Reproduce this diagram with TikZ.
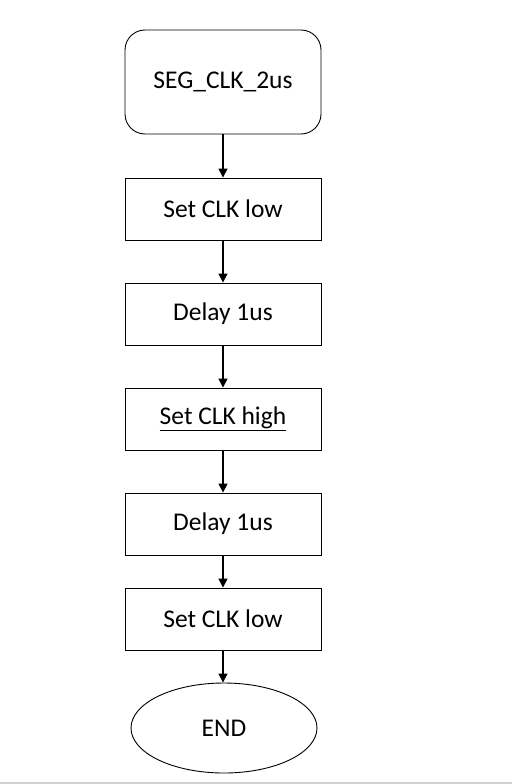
\documentclass[tikz,border=0pt]{standalone}
\usepackage{fontspec}
\setmainfont{Carlito}
\usetikzlibrary{arrows.meta,shapes.geometric}
\begin{document}
\begin{tikzpicture}[x=1pt,y=-1pt,
  txt/.style={font=\fontsize{25.5}{30}\selectfont},
  stepbox/.style={draw,line width=0.9pt,minimum width=196pt,minimum height=62pt,inner sep=0pt,txt},
  startbox/.style={stepbox,rounded corners=20pt,minimum height=104pt},
  endshape/.style={draw,ellipse,line width=0.9pt,minimum width=186pt,minimum height=90pt,inner sep=0pt,txt},
  flow/.style={line width=1.5pt,-{Triangle[length=9pt,width=9pt]}}]
\useasboundingbox (0,0) rectangle (512,784);
\fill[white] (0,0) rectangle (512,784);
\fill[black!18] (0,781.5) rectangle (512,784);
\node[startbox] (s) at (223,82) {SEG\_CLK\_2us};
\node[stepbox] (b1) at (223,209) {Set CLK low};
\node[stepbox] (b2) at (223,314) {Delay 1us};
\node[stepbox] (b3) at (223,419) {\underline{Set CLK high}};
\node[stepbox] (b4) at (223,524) {Delay 1us};
\node[stepbox] (b5) at (223,619) {Set CLK low};
\node[endshape] (e) at (224,728) {END};
\draw[flow] (s) -- (b1);
\draw[flow] (b1) -- (b2);
\draw[flow] (b2) -- (b3);
\draw[flow] (b3) -- (b4);
\draw[flow] (b4) -- (b5);
\draw[flow] (b5.south) -- (b5.south |- e.north);
\end{tikzpicture}
\end{document}
